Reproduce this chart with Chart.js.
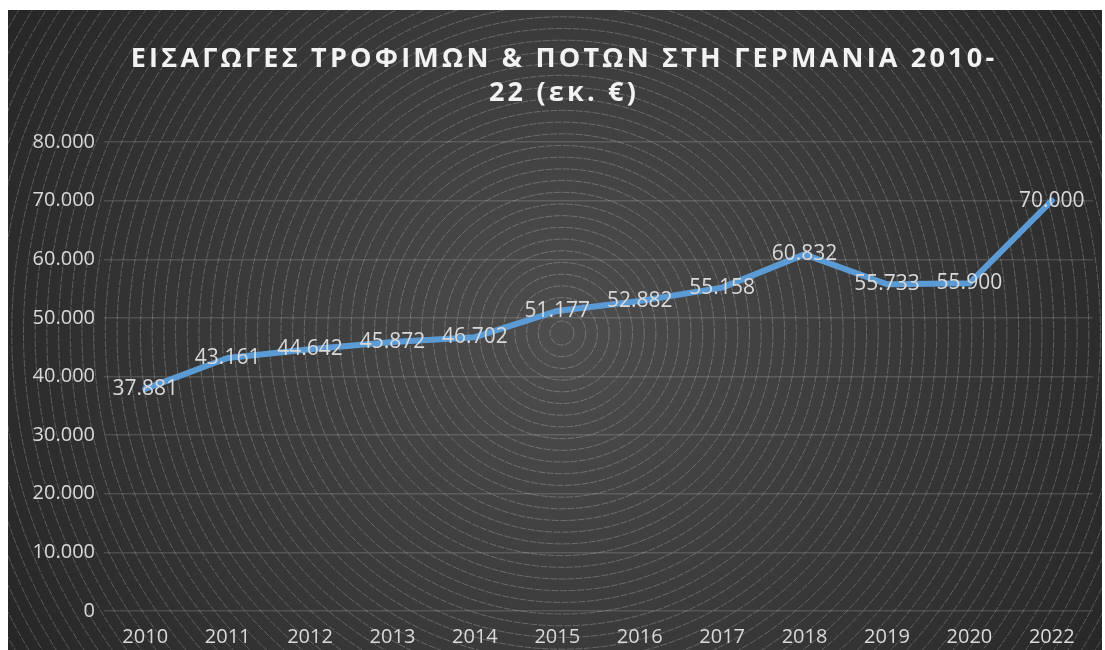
<!DOCTYPE html>
<html>
<head>
<meta charset="utf-8">
<script src="https://cdn.jsdelivr.net/npm/chart.js@4"></script>
<style>
  body { margin: 0; background: #fff; }
  #wrap { position: absolute; left: 8px; top: 10px; width: 1094px; height: 640px; }
</style>
</head>
<body>
<div id="wrap"><canvas id="myChart"></canvas></div>
<script>
const years = ['2010', '2011', '2012', '2013', '2014', '2015', '2016', '2017', '2018', '2019', '2020', '2022'];
const imports = [37881, 43161, 44642, 45872, 46702, 51177, 52882, 55158, 60832, 55733, 55900, 70000];
const titleLines = ['ΕΙΣΑΓΩΓΕΣ ΤΡΟΦΙΜΩΝ & ΠΟΤΩΝ ΣΤΗ ΓΕΡΜΑΝΙΑ 2010-', '22 (εκ. €)'];

const FONT = "'Open Sans', sans-serif";
const TEXT = '#d9d9d9';
const intl = new Intl.NumberFormat('de-DE');

// dark radial background with concentric rings
const backdrop = {
  id: 'backdrop',
  beforeDraw(chart) {
    const { ctx, width, height } = chart;
    const cx = 554, cy = 323;
    ctx.save();
    const g = ctx.createRadialGradient(cx, cy, 0, cx, cy, 640);
    g.addColorStop(0, '#4e4e4e');
    g.addColorStop(1, '#262626');
    ctx.fillStyle = g;
    ctx.fillRect(0, 0, width, height);
    ctx.strokeStyle = 'rgba(255,255,255,0.32)';
    ctx.lineWidth = 0.7;
    ctx.setLineDash([7, 1.5]);
    for (let r = 12; r < 700; r += 11.7) {
      ctx.beginPath();
      ctx.arc(cx, cy, r, 0, Math.PI * 2);
      ctx.stroke();
    }
    ctx.restore();
  }
};

const titleAndLabels = {
  id: 'titleAndLabels',
  afterDatasetsDraw(chart) {
    const { ctx } = chart;
    const meta = chart.getDatasetMeta(0);
    ctx.save();
    ctx.fillStyle = TEXT;
    ctx.font = '21px ' + FONT;
    ctx.textAlign = 'center';
    ctx.textBaseline = 'middle';
    meta.data.forEach((pt, i) => {
      ctx.fillText(intl.format(imports[i]), pt.x, pt.y);
    });
    ctx.fillStyle = '#f2f2f2';
    ctx.font = 'bold 27px ' + FONT;
    ctx.letterSpacing = '3.2px';
    titleLines.forEach((t, i) => ctx.fillText(t, 556, 49 + i * 34));
    ctx.restore();
  }
};

const ctx = document.getElementById('myChart');
const myChart = new Chart(ctx, {
  type: 'line',
  data: {
    labels: years,
    datasets: [{
      label: 'Εισαγωγές',
      data: imports,
      borderColor: '#5b9bd5',
      borderWidth: 6,
      pointRadius: 0,
      tension: 0,
      borderCapStyle: 'round',
      borderJoinStyle: 'round'
    }]
  },
  options: {
    responsive: true,
    maintainAspectRatio: false,
    animation: false,
    layout: { padding: { top: 132, right: 9, left: 0, bottom: 0 } },
    plugins: {
      legend: { display: false },
      title: { display: false },
      tooltip: { enabled: false }
    },
    scales: {
      x: {
        offset: true,
        grid: { display: false },
        border: { display: false },
        ticks: { color: TEXT, font: { family: FONT, size: 20 }, padding: 6 },
        afterFit(s) { s.height = 39; }
      },
      y: {
        min: 0,
        max: 80000,
        ticks: {
          stepSize: 10000,
          color: TEXT,
          font: { family: FONT, size: 20 },
          padding: 9,
          callback: v => intl.format(v)
        },
        grid: { color: 'rgba(255,255,255,0.14)', lineWidth: 1.5, drawTicks: false },
        border: { display: false },
        afterFit(s) { s.width = 96; }
      }
    }
  },
  plugins: [backdrop, titleAndLabels]
});
</script>
</body>
</html>
